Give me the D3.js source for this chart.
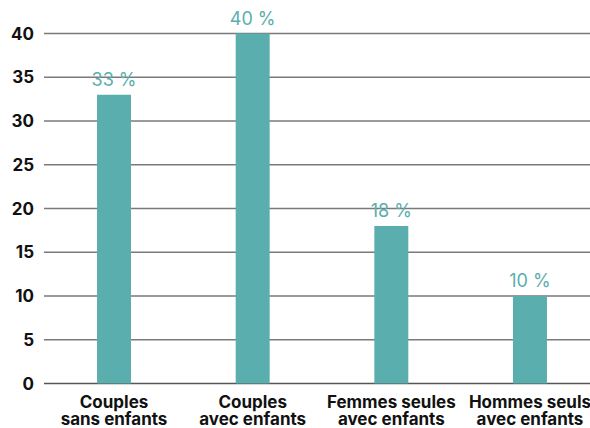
<!DOCTYPE html>
<html>
<head>
<meta charset="utf-8">
<script src="https://d3js.org/d3.v7.min.js"></script>
<style>
  body { margin: 0; background: #fff; }
  svg text { font-family: Inter, "Noto Sans", sans-serif; }
</style>
</head>
<body>
<div id="chart"></div>
<script>
// data
var categories = [
  ["Couples", "sans enfants"],
  ["Couples", "avec enfants"],
  ["Femmes seules", "avec enfants"],
  ["Hommes seuls", "avec enfants"]
];
var values = [33, 40, 18, 10];
var yTicks = [0, 5, 10, 15, 20, 25, 30, 35, 40];

var width = 590, height = 428;
var teal = "#5aaead";

var svg = d3.select("#chart").append("svg")
  .attr("width", width)
  .attr("height", height);

var keys = categories.map(function (d) { return d.join(" "); });

var x = d3.scaleBand()
  .domain(keys)
  .range([44.7, 599.3])
  .paddingInner(0.755)
  .paddingOuter(0.3775);

var y = d3.scaleLinear()
  .domain([0, 40])
  .range([383.5, 33.5]);

// gridlines
svg.append("g")
  .selectAll("line")
  .data(yTicks)
  .enter()
  .append("line")
  .attr("x1", 44)
  .attr("x2", width)
  .attr("y1", function (d) { return y(d); })
  .attr("y2", function (d) { return y(d); })
  .attr("stroke", function (d) { return d == 0 ? "#555" : "#7a7a7a"; })
  .attr("stroke-width", 1.4);

// y tick labels
svg.append("g")
  .selectAll("text")
  .data(yTicks)
  .enter()
  .append("text")
  .attr("x", 34)
  .attr("y", function (d) { return y(d); })
  .attr("dy", "0.36em")
  .attr("text-anchor", "end")
  .attr("font-size", 17)
  .attr("font-weight", 700)
  .attr("fill", "#111")
  .text(function (d) { return d; });

// bars
svg.append("g")
  .selectAll("rect")
  .data(values)
  .enter()
  .append("rect")
  .attr("x", function (d, i) { return x(keys[i]); })
  .attr("width", x.bandwidth())
  .attr("y", function (d) { return y(d); })
  .attr("height", function (d) { return y(0) - y(d); })
  .attr("fill", teal);

// value labels
svg.append("g")
  .selectAll("text")
  .data(values)
  .enter()
  .append("text")
  .attr("x", function (d, i) { return x(keys[i]) + x.bandwidth() / 2; })
  .attr("y", function (d) { return y(d) - 9; })
  .attr("text-anchor", "middle")
  .attr("font-size", 18)
  .attr("font-weight", 400)
  .attr("fill", teal)
  .text(function (d) { return d + " %"; });

// category labels
var cat = svg.append("g")
  .selectAll("text")
  .data(categories)
  .enter()
  .append("text")
  .attr("x", function (d, i) { return x(keys[i]) + x.bandwidth() / 2; })
  .attr("y", 408)
  .attr("text-anchor", "middle")
  .attr("font-size", 17)
  .attr("font-weight", 700)
  .attr("fill", "#111");

cat.selectAll("tspan")
  .data(function (d) { return d; })
  .enter()
  .append("tspan")
  .attr("x", function () { return d3.select(this.parentNode).attr("x"); })
  .attr("dy", function (d, i) { return i == 0 ? 0 : 17; })
  .text(function (d) { return d; });
</script>
</body>
</html>
